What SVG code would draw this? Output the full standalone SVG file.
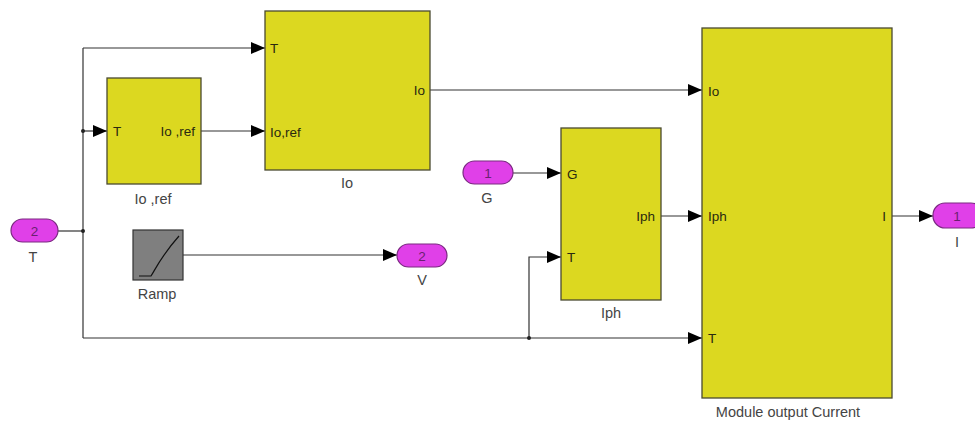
<svg xmlns="http://www.w3.org/2000/svg" width="975" height="422" viewBox="0 0 975 422">
  <defs>
    <marker id="arrow" markerUnits="userSpaceOnUse" markerWidth="14" markerHeight="14" viewBox="0 0 14 14" refX="14" refY="7" orient="auto">
      <path d="M0,1 L14,7 L0,13 Z" fill="#000"/>
    </marker>
    <style>
      .blk { fill: #dcd820; stroke: #4a4a30; stroke-width: 1.3; }
      .port { fill: #e040e8; stroke: #7a2a80; stroke-width: 1.2; }
      .wire { fill: none; stroke: #333; stroke-width: 1.2; }
      .pl { font-family: "Liberation Sans", Arial, sans-serif; font-size: 13.5px; fill: #2a2a10; }
      .bl { font-family: "Liberation Sans", Arial, sans-serif; font-size: 14.5px; fill: #444; text-anchor: middle; }
      .num { font-family: "Liberation Sans", Arial, sans-serif; font-size: 13.5px; fill: #6a2070; text-anchor: middle; }
    </style>
  </defs>

  <!-- signal lines -->
  <g id="connectors">
    <!-- T bus from inport 2 -->
    <path class="wire" d="M58,231 H83"/>
    <path class="wire" d="M83,48 V338"/>
    <path class="wire" d="M83,48 H265" marker-end="url(#arrow)"/>
    <path class="wire" d="M83,131 H107" marker-end="url(#arrow)"/>
    <path class="wire" d="M83,338 H702" marker-end="url(#arrow)"/>
    <path class="wire" d="M529,338 V257 H561" marker-end="url(#arrow)"/>
    <!-- Io,ref -> Io -->
    <path class="wire" d="M201,131 H265" marker-end="url(#arrow)"/>
    <!-- Io -> Module -->
    <path class="wire" d="M430,90 H702" marker-end="url(#arrow)"/>
    <!-- G -> Iph -->
    <path class="wire" d="M513,173 H561" marker-end="url(#arrow)"/>
    <!-- Iph -> Module -->
    <path class="wire" d="M661,216 H702" marker-end="url(#arrow)"/>
    <!-- Module -> I -->
    <path class="wire" d="M892,216 H933" marker-end="url(#arrow)"/>
    <!-- Ramp -> V -->
    <path class="wire" d="M183,255 H397" marker-end="url(#arrow)"/>
    <!-- branch points -->
    <circle cx="83" cy="131" r="2" fill="#222"/>
    <circle cx="83" cy="231" r="2" fill="#222"/>
    <circle cx="529" cy="338" r="2" fill="#222"/>
  </g>

  <g id="inport-T">
    <rect class="port" x="11" y="219" width="47" height="23" rx="11.5"/>
    <text class="num" x="34.5" y="235.5">2</text>
    <text class="bl" x="33" y="262">T</text>
  </g>

  <g id="block-ioref">
    <rect class="blk" x="107" y="78" width="94" height="106"/>
    <text class="pl" x="113" y="136">T</text>
    <text class="pl" x="195" y="136" text-anchor="end">Io ,ref</text>
    <text class="bl" x="153" y="204">Io ,ref</text>
  </g>

  <g id="block-io">
    <rect class="blk" x="265" y="11" width="165" height="159"/>
    <text class="pl" x="270" y="53">T</text>
    <text class="pl" x="270" y="137">Io,ref</text>
    <text class="pl" x="425" y="95" text-anchor="end">Io</text>
    <text class="bl" x="347" y="188">Io</text>
  </g>

  <g id="block-ramp">
    <rect x="133" y="230" width="50" height="50" fill="#7f7f7f" stroke="#333" stroke-width="1.2"/>
    <path d="M139,276 H151 C156,268 162,255 179,236" fill="none" stroke="#111" stroke-width="1.2"/>
    <text class="bl" x="157" y="299">Ramp</text>
  </g>

  <g id="outport-V">
    <rect class="port" x="397" y="244" width="50" height="23" rx="11.5"/>
    <text class="num" x="422" y="260.5">2</text>
    <text class="bl" x="422" y="285">V</text>
  </g>

  <g id="inport-G">
    <rect class="port" x="463" y="161" width="50" height="23" rx="11.5"/>
    <text class="num" x="488" y="177.5">1</text>
    <text class="bl" x="487" y="203">G</text>
  </g>

  <g id="block-iph">
    <rect class="blk" x="561" y="128" width="100" height="172"/>
    <text class="pl" x="567" y="179">G</text>
    <text class="pl" x="567" y="262">T</text>
    <text class="pl" x="655" y="221" text-anchor="end">Iph</text>
    <text class="bl" x="611" y="318">Iph</text>
  </g>

  <g id="block-module">
    <rect class="blk" x="702" y="28" width="190" height="370"/>
    <text class="pl" x="708" y="96">Io</text>
    <text class="pl" x="708" y="221">Iph</text>
    <text class="pl" x="708" y="343">T</text>
    <text class="pl" x="886" y="221" text-anchor="end">I</text>
    <text class="bl" x="788" y="417">Module output Current</text>
  </g>

  <g id="outport-I">
    <rect class="port" x="933" y="203" width="50" height="25" rx="12"/>
    <text class="num" x="957" y="220.5">1</text>
    <text class="bl" x="957" y="247">I</text>
  </g>
</svg>
